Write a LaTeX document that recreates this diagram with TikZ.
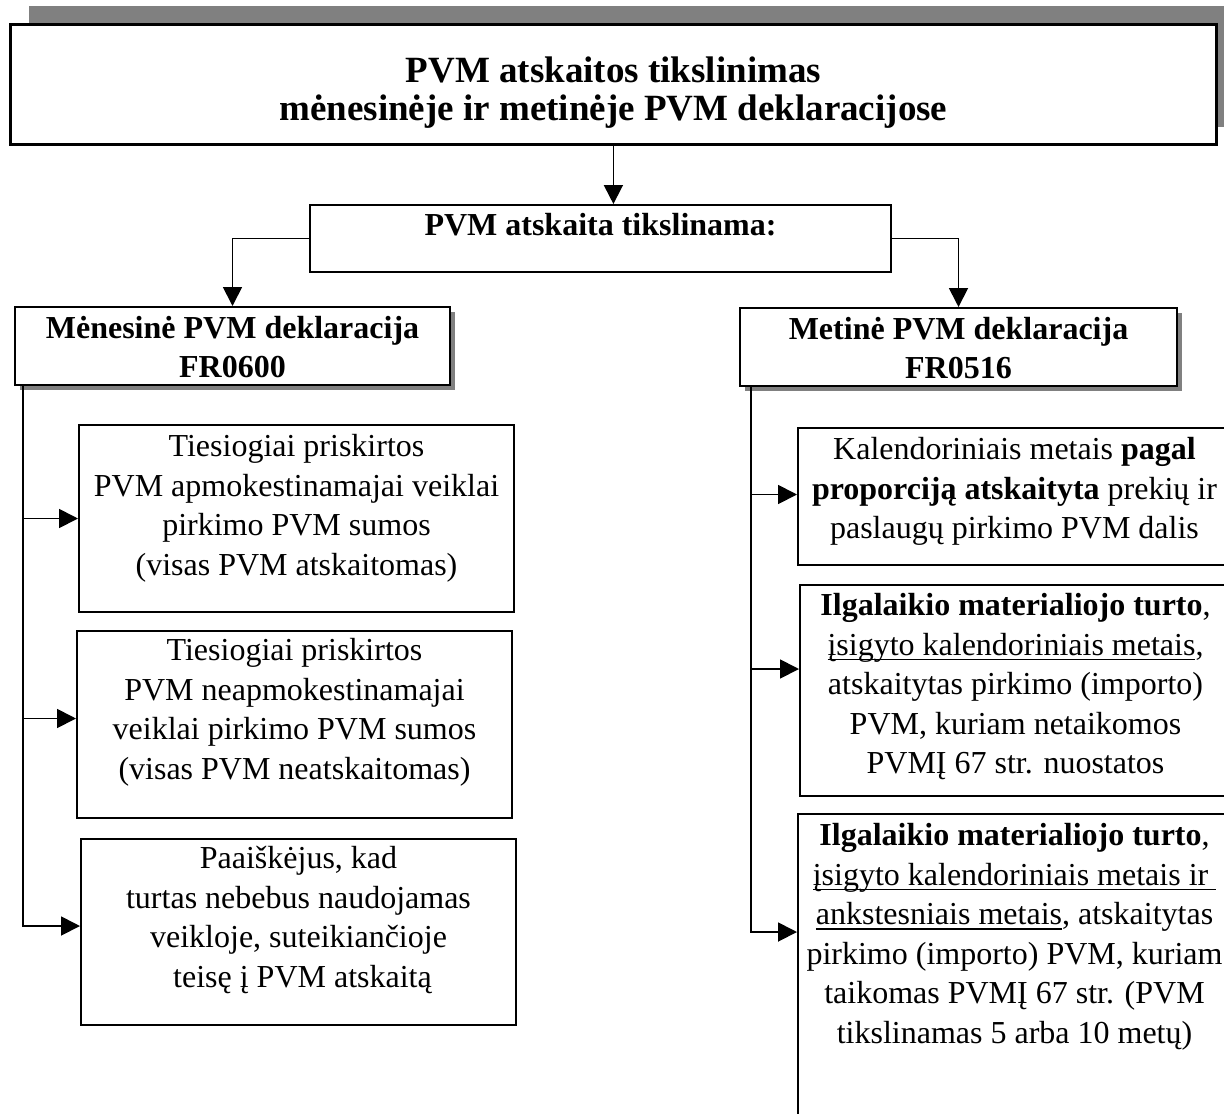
\documentclass[tikz,border=0pt]{standalone}
\usepackage{fontspec}
\setmainfont{Liberation Serif}
\usetikzlibrary{arrows.meta,shadows}
\newcommand{\ulx}[1]{\setbox0\hbox{#1}\rlap{\rule[-2.6pt]{\wd0}{0.8pt}}\box0}
\definecolor{shadegray}{HTML}{808080}
\begin{document}
\begin{tikzpicture}[x=0.5pt,y=-0.5pt,
  bx/.style={draw, line width=1pt, fill=white, inner sep=0pt, anchor=north west},
  hshadow/.style={drop shadow={shadow xshift=2.5pt, shadow yshift=-2.5pt, fill=shadegray, opacity=1}},
  txt/.style={inner sep=0pt, anchor=north, align=center, font=\fontsize{16pt}{19.8pt}\selectfont},
  btxt/.style={inner sep=0pt, anchor=north, align=center, font=\bfseries\fontsize{16pt}{19.6pt}\selectfont},
  arr/.style={line width=0.9pt, -{Triangle[length=9.5pt,width=9.5pt]}},
  ln/.style={line width=0.9pt}]
\useasboundingbox (0,0) rectangle (1224,1113);
\clip (0,0) rectangle (1224,1113);

% title
\fill[shadegray] (29,6) rectangle (1240,127);
\node[bx, line width=1.4pt, minimum width=603pt, minimum height=60pt] (title) at (9,23) {};
\node[inner sep=0pt, anchor=north, align=center, font=\bfseries\fontsize{18.5pt}{19.2pt}\selectfont] (titlet) at (title.north)
  {\rule{0pt}{29.5pt}PVM atskaitos tikslinimas\\mėnesinėje ir metinėje PVM deklaracijose};

% middle
\node[bx, minimum width=290.5pt, minimum height=33.5pt] (mid) at (309,204) {};
\node[btxt] (midt) at (mid.north) {\rule{0pt}{15.5pt}PVM atskaita tikslinama:};

% headers
\node[bx, hshadow, minimum width=217.5pt, minimum height=39pt] (lhead) at (14,306) {};
\node[btxt] (lheadt) at (lhead.north) {\rule{0pt}{16pt}Mėnesinė PVM deklaracija\\FR0600};
\node[bx, hshadow, minimum width=218.5pt, minimum height=39pt] (rhead) at (739,307) {};
\node[btxt] (rheadt) at (rhead.north) {\rule{0pt}{16pt}Metinė PVM deklaracija\\FR0516};

% left boxes
\node[bx, minimum width=217.5pt, minimum height=93.5pt] (lb1) at (78,424) {};
\node[txt] (lb1t) at (lb1.north) {\rule{0pt}{16pt}Tiesiogiai priskirtos\\PVM apmokestinamajai veiklai\\pirkimo PVM sumos\\(visas PVM atskaitomas)};
\node[bx, minimum width=217.5pt, minimum height=93.5pt] (lb2) at (76,630) {};
\node[txt] (lb2t) at (lb2.north) {\rule{0pt}{15pt}Tiesiogiai priskirtos\\PVM neapmokestinamajai\\veiklai pirkimo PVM sumos\\(visas PVM neatskaitomas)};
\node[bx, minimum width=217.5pt, minimum height=93pt] (lb3) at (80,838) {};
\node[txt] (lb3t) at (lb3.north) {\rule{0pt}{15pt}Paaiškėjus, kad\\turtas nebebus naudojamas\\veikloje, suteikiančioje\\\hspace*{4pt}teisę į PVM atskaitą};

% right boxes
\node[bx, minimum width=216.5pt, minimum height=68.5pt] (rb1) at (797,427) {};
\node[txt] (rb1t) at (rb1.north) {\rule{0pt}{16pt}Kalendoriniais metais \textbf{pagal}\\\textbf{proporciją atskaityta} prekių ir\\paslaugų pirkimo PVM dalis};
\node[bx, minimum width=215.5pt, minimum height=105.5pt] (rb2) at (799,584) {};
\node[txt] (rb2t) at (rb2.north) {\rule{0pt}{15.5pt}\textbf{Ilgalaikio materialiojo turto},\\\ulx{įsigyto kalendoriniais metais},\\atskaitytas pirkimo (importo)\\PVM, kuriam netaikomos\\PVMĮ 67 str. nuostatos};
\node[bx, minimum width=216.5pt, minimum height=200pt] (rb3) at (797,813) {};
\node[txt] (rb3t) at (rb3.north) {\rule{0pt}{16pt}\textbf{Ilgalaikio materialiojo turto},\\\ulx{įsigyto kalendoriniais metais ir\ }\\\ulx{ankstesniais metais}, atskaitytas\\pirkimo (importo) PVM, kuriam\\taikomas PVMĮ 67 str. (PVM\\tikslinamas 5 arba 10 metų)};

% connectors
\draw[arr] (title.south) -- (title.south |- mid.north);
\draw[arr] (mid.west) -| (lhead.north);
\draw[arr] (mid.east) -| (rhead.north);

\coordinate (ls) at ([xshift=4.5pt]lhead.south west);
\coordinate (lb1in) at (lb1.west);
\coordinate (lb2in) at ([yshift=3pt]lb2.west);
\coordinate (lb3in) at ([yshift=3pt]lb3.west);
\draw[arr] (ls) |- (lb3in);
\draw[arr] (ls |- lb1in) -- (lb1in);
\draw[arr] (ls |- lb2in) -- (lb2in);

\coordinate (rs) at ([xshift=6pt]rhead.south west);
\coordinate (rb1in) at ([yshift=1pt]rb1.west);
\coordinate (rb2in) at ([yshift=10.75pt]rb2.west);
\coordinate (rb3in) at ([yshift=-59.5pt]rb3.north west);
\draw[arr] (rs) |- (rb3in);
\draw[arr] (rs |- rb1in) -- (rb1in);
\draw[arr] (rs |- rb2in) -- (rb2in);
\end{tikzpicture}
\end{document}
